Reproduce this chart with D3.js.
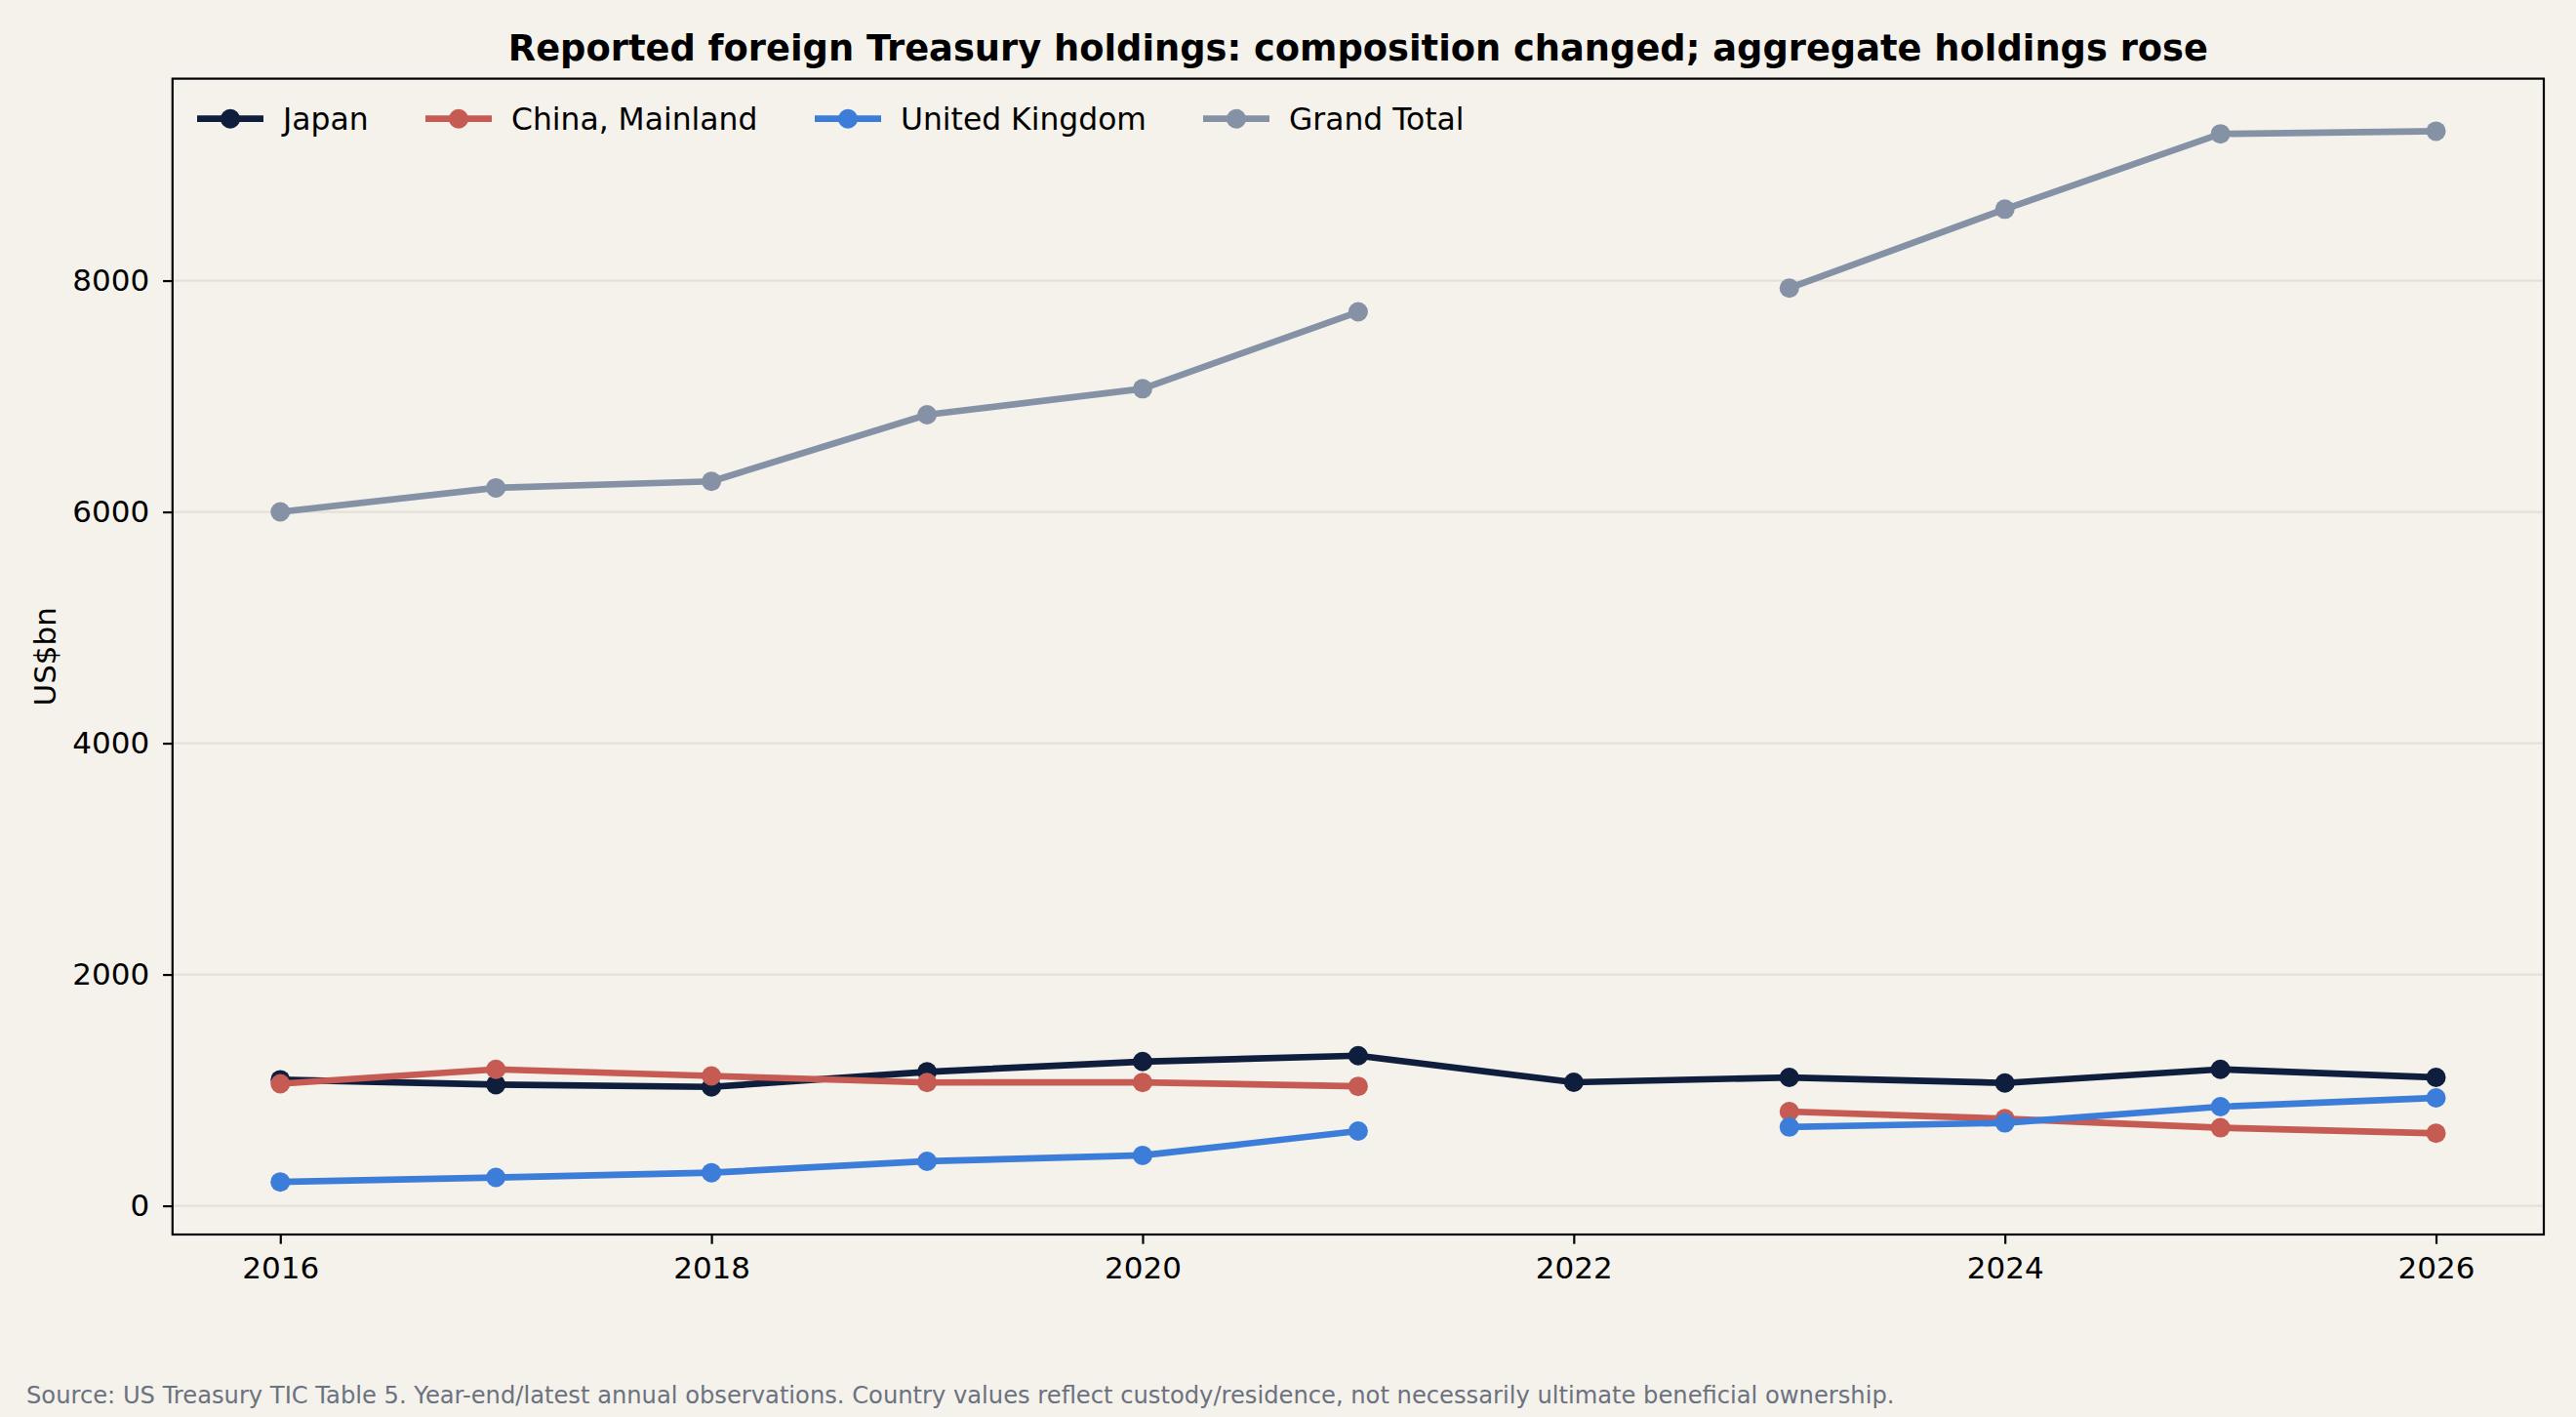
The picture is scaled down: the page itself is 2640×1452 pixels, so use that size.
<!DOCTYPE html>
<html>
<head>
<meta charset="utf-8">
<script src="https://cdn.jsdelivr.net/npm/d3@7/dist/d3.min.js"></script>
<style>
  html, body { margin: 0; padding: 0; background: #f5f1eb; }
  svg { display: block; font-family: "DejaVu Sans", sans-serif; }
</style>
</head>
<body>
<svg id="chart" width="2640" height="1452"></svg>
<script>
// ---- data ----
const years = [2016, 2017, 2018, 2019, 2020, 2021, 2022, 2023, 2024, 2025, 2026];
const japan = [1090, 1048, 1028, 1158, 1247, 1298, 1068, 1110, 1062, 1180, 1110];
const china = [1055, 1180, 1123, 1066, 1067, 1033, null, 815, 753, 675, 627];
const uk    = [206, 245, 286, 385, 436, 646, null, 681, 717, 857, 933];
const grandTotal = [6000, 6208, 6264, 6840, 7065, 7730, null, 7935, 8618, 9269, 9292];
const seriesNames = ["Japan", "China, Mainland", "United Kingdom", "Grand Total"];
const seriesColors = ["#0e1e3c", "#c55b52", "#3b7dd8", "#8592a6"];
const xTicks = [2016, 2018, 2020, 2022, 2024, 2026];
const yTicks = [0, 2000, 4000, 6000, 8000];
const titleText = "Reported foreign Treasury holdings: composition changed; aggregate holdings rose";
const yLabel = "US$bn";
const sourceText = "Source: US Treasury TIC Table 5. Year-end/latest annual observations. Country values reflect custody/residence, not necessarily ultimate beneficial ownership.";

const seriesValues = [japan, china, uk, grandTotal];

(function () {
// ---- layout ----
const svg = d3.select("#chart");
const W = 2640, H = 1452;
const pL = 176.8, pR = 2607, pT = 80.6, pB = 1265;

svg.append("rect").attr("width", W).attr("height", H).attr("fill", "#f5f1eb");

const allVals = seriesValues.flat().filter(v => v != null);
const vMin = d3.min(allVals), vMax = d3.max(allVals);
const yPad = (vMax - vMin) * 0.05;
const x = d3.scaleLinear().domain([2015.5, 2026.5]).range([pL, pR]);
const y = d3.scaleLinear().domain([vMin - yPad, vMax + yPad]).range([pB, pT]);

// grid
svg.append("g").selectAll("line").data(yTicks).join("line")
  .attr("x1", pL).attr("x2", pR)
  .attr("y1", d => y(d)).attr("y2", d => y(d))
  .attr("stroke", "#e4e0da").attr("stroke-width", 2.2);

// series
const line = d3.line().defined(d => d.v != null).x(d => x(d.year)).y(d => y(d.v));
seriesValues.forEach((vals, i) => {
  const pts = years.map((yr, j) => ({ year: yr, v: vals[j] }));
  const g = svg.append("g");
  g.append("path").datum(pts).attr("d", line)
    .attr("fill", "none").attr("stroke", seriesColors[i])
    .attr("stroke-width", 6.7).attr("stroke-linejoin", "round").attr("stroke-linecap", "square");
  g.selectAll("circle").data(pts.filter(d => d.v != null)).join("circle")
    .attr("cx", d => x(d.year)).attr("cy", d => y(d.v)).attr("r", 10)
    .attr("fill", seriesColors[i]);
});

// axes
const xAxis = d3.axisBottom(x).tickValues(xTicks).tickFormat(d3.format("d"))
  .tickSize(9.7).tickPadding(13).tickSizeOuter(0);
const gx = svg.append("g").attr("transform", `translate(0,${pB})`).call(xAxis);
const yAxis = d3.axisLeft(y).tickValues(yTicks).tickFormat(d3.format("d"))
  .tickSize(9.7).tickPadding(14).tickSizeOuter(0);
const gy = svg.append("g").attr("transform", `translate(${pL},0)`).call(yAxis);
[gx, gy].forEach(g => {
  g.select(".domain").remove();
  g.selectAll(".tick line").attr("stroke", "#000").attr("stroke-width", 2.2);
  g.selectAll(".tick text").attr("fill", "#000")
    .style("font-family", "DejaVu Sans").style("font-size", "31px");
});

// frame
svg.append("rect").attr("x", pL).attr("y", pT)
  .attr("width", pR - pL).attr("height", pB - pT)
  .attr("fill", "none").attr("stroke", "#000").attr("stroke-width", 2.2);

// title
svg.append("text").attr("x", (pL + pR) / 2).attr("y", 62)
  .attr("text-anchor", "middle").attr("font-weight", "bold")
  .attr("font-size", "36.8px").attr("fill", "#000").text(titleText);

// y label
svg.append("text").attr("transform", `translate(57,${(pT + pB) / 2}) rotate(-90)`)
  .attr("text-anchor", "middle").attr("font-size", "31px").attr("fill", "#000").text(yLabel);

// legend
const legendX = [202, 436, 835, 1233];
const legendY = 121.7;
seriesNames.forEach((name, i) => {
  const g = svg.append("g").attr("transform", `translate(${legendX[i]},${legendY})`);
  g.append("line").attr("x1", 0).attr("x2", 68).attr("y1", 0).attr("y2", 0)
    .attr("stroke", seriesColors[i]).attr("stroke-width", 6.7);
  g.append("circle").attr("cx", 34).attr("cy", 0).attr("r", 10).attr("fill", seriesColors[i]);
  g.append("text").attr("x", 88).attr("y", 10.8).attr("font-size", "31.4px")
    .attr("fill", "#000").text(name);
});

// source
svg.append("text").attr("x", 27).attr("y", 1437.5).attr("font-size", "24.2px")
  .attr("fill", "#6b7280").text(sourceText);
})();
</script>
</body>
</html>
